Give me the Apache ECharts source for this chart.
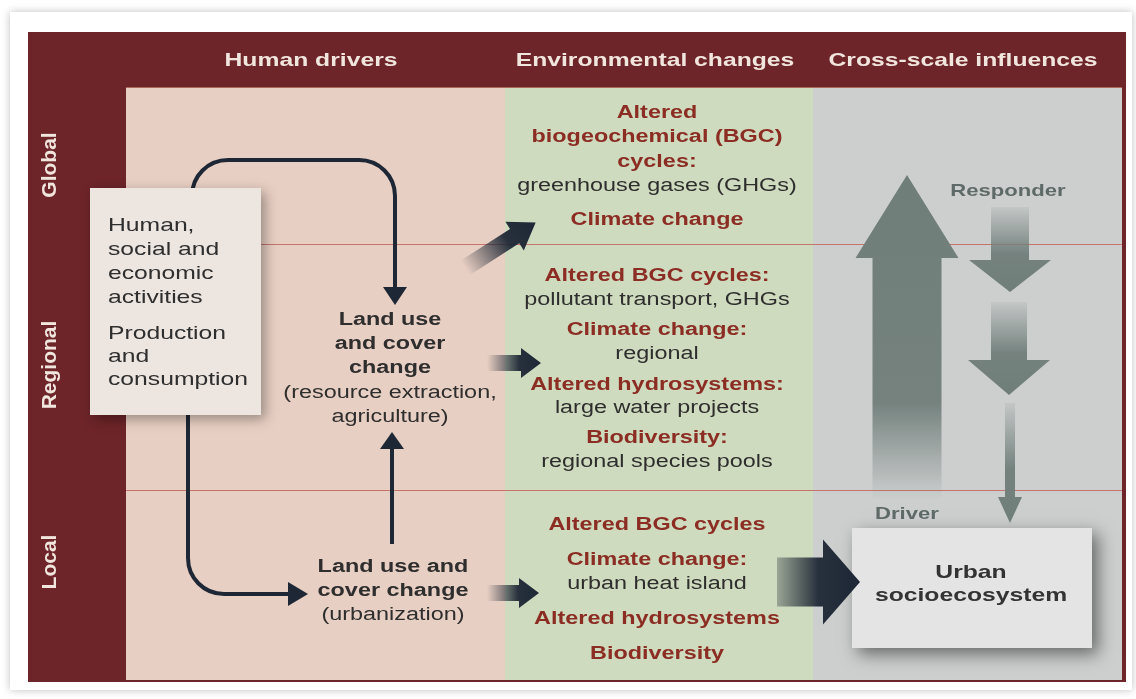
<!DOCTYPE html>
<html>
<head>
<meta charset="utf-8">
<script src="https://cdn.jsdelivr.net/npm/echarts@6/dist/echarts.min.js"></script>
<style>
  html, body { margin: 0; padding: 0; background: #fff; }
  #main { width: 1136px; height: 699px; }
</style>
</head>
<body>
<div id="main"></div>
<script>
// texts of the diagram
var columnTitles = ['Human drivers', 'Environmental changes', 'Cross-scale influences'];
var scaleLabels = ['Global', 'Regional', 'Local'];
var activityLines = ['Human,', 'social and', 'economic', 'activities', 'Production', 'and', 'consumption'];
var regionalLanduse = ['Land use', 'and cover', 'change', '(resource extraction,', 'agriculture)'];
var regionalLanduseBold = [1, 1, 1, 0, 0];
var localLanduse = ['Land use and', 'cover change', '(urbanization)'];
var localLanduseBold = [1, 1, 0];
var envGlobal = ['Altered', 'biogeochemical (BGC)', 'cycles:', 'greenhouse gases (GHGs)', 'Climate change'];
var envGlobalBold = [1, 1, 1, 0, 1];
var envRegional = ['Altered BGC cycles:', 'pollutant transport, GHGs', 'Climate change:', 'regional',
    'Altered hydrosystems:', 'large water projects', 'Biodiversity:', 'regional species pools'];
var envRegionalBold = [1, 0, 1, 0, 1, 0, 1, 0];
var envLocal = ['Altered BGC cycles', 'Climate change:', 'urban heat island', 'Altered hydrosystems', 'Biodiversity'];
var envLocalBold = [1, 1, 0, 1, 1];
var crossLabels = ['Responder', 'Driver'];
var urbanLines = ['Urban', 'socioecosystem'];

// layout (pixels)
var FONT = "'Liberation Sans', Arial, Helvetica, sans-serif";
var SX = 1.3;   // the picture is stretched sideways
var titleX = [311, 655, 963];
var scaleY = [165, 365, 562];
var dividerY = [244, 490];
var activityY = [226, 250, 274, 298, 334, 357, 380];
var regionalLanduseY = [320, 344, 368, 393, 417];
var localLanduseY = [567, 591, 615];
var envGlobalY = [113, 137, 162, 186, 220];
var envRegionalY = [276, 300, 330, 354, 385, 408, 438, 462];
var envLocalY = [525, 560, 584, 619, 654];

var RED = '#8c2d24';
var DARK = '#2e2e2e';
var NAVY = '#1e2735';
var GREYARROW = '112,126,122';

var myChart = echarts.init(document.getElementById('main'), null, { renderer: 'canvas' });
var els = [];

function txt(s, x, y, opt) {
    opt = opt || {};
    els.push({
        type: 'text', x: x, y: y, z: opt.z || 20,
        scaleX: opt.rot ? 1 : SX,
        rotation: opt.rot || 0,
        style: {
            text: s,
            fill: opt.color || DARK,
            font: (opt.bold ? 'bold ' : '') + (opt.size || 18) + 'px ' + FONT,
            textAlign: opt.align || 'center', align: opt.align || 'center',
            textVerticalAlign: 'middle', verticalAlign: 'middle'
        }
    });
}

function seg(x1, y1, x2, y2) {
    els.push({ type: 'line', z: 10, shape: { x1: x1, y1: y1, x2: x2, y2: y2 },
        style: { stroke: NAVY, lineWidth: 4 } });
}
function corner(x1, y1, c1x, c1y, c2x, c2y, x2, y2) {
    els.push({ type: 'bezierCurve', z: 10,
        shape: { x1: x1, y1: y1, cpx1: c1x, cpy1: c1y, cpx2: c2x, cpy2: c2y, x2: x2, y2: y2 },
        style: { stroke: NAVY, lineWidth: 4, fill: null } });
}

function arrowPts(L, sw, hw, hl) {
    return [[0, -sw / 2], [L - hl, -sw / 2], [L - hl, -hw / 2], [L, 0],
        [L - hl, hw / 2], [L - hl, sw / 2], [0, sw / 2]];
}

function fatArrow(x, y, rot, L, sw, hw, hl, stops, z) {
    els.push({
        type: 'polygon', x: x, y: y, rotation: rot, z: z || 15,
        shape: { points: arrowPts(L, sw, hw, hl) },
        style: {
            fill: { type: 'linear', x: 0, y: 0, x2: 1, y2: 0, colorStops: stops }
        }
    });
}

// card and frame
els.push({ type: 'rect', z: 1, shape: { x: 10, y: 12, width: 1122, height: 678 },
    style: { fill: '#fff', shadowBlur: 8, shadowColor: 'rgba(0,0,0,0.25)' } });
els.push({ type: 'rect', z: 2, shape: { x: 28, y: 32, width: 1098, height: 650 },
    style: { fill: '#6d2529' } });
els.push({ type: 'rect', z: 3, shape: { x: 126, y: 87, width: 380, height: 593 }, style: { fill: '#e8cfc3' } });
els.push({ type: 'rect', z: 3, shape: { x: 505, y: 87, width: 309, height: 593 }, style: { fill: '#cfdbbe' } });
els.push({ type: 'rect', z: 3, shape: { x: 813, y: 87, width: 309, height: 593 }, style: { fill: '#cdcfcf' } });
els.push({ type: 'rect', z: 4, shape: { x: 126, y: 87, width: 996, height: 1 }, style: { fill: '#a8695a' } });

// scale dividers
dividerY.forEach(function (yy, i) {
    els.push({ type: 'rect', id: 'divider' + i, z: 4, shape: { x: 126, y: yy, width: 996, height: 1 },
        style: { fill: '#c4746a', stroke: null } });
});

// headers and side labels
columnTitles.forEach(function (t, i) {
    txt(t, titleX[i], 61, { bold: true, size: 19, color: '#f1e6de' });
});
scaleLabels.forEach(function (t, i) {
    txt(t, 50, scaleY[i], { bold: true, size: 21, color: '#f1e6de', rot: Math.PI / 2 });
});

// human activity box
els.push({ type: 'rect', z: 12, shape: { x: 90, y: 188, width: 171, height: 227 },
    style: { fill: '#ece5e0', shadowBlur: 12, shadowOffsetX: 4, shadowOffsetY: 4, shadowColor: 'rgba(0,0,0,0.35)' } });
activityLines.forEach(function (t, i) {
    txt(t, 108, activityY[i], { size: 19, align: 'left' });
});

// thin connector arrows
seg(192, 200, 192, 196);
corner(192, 196, 192, 176, 208, 160, 228, 160);
seg(228, 160, 359, 160);
corner(359, 160, 379, 160, 395, 176, 395, 196);
seg(395, 196, 395, 290);
els.push({ type: 'polygon', z: 10, shape: { points: [[383, 287], [407, 287], [395, 305]] }, style: { fill: NAVY } });
seg(188, 405, 188, 558);
corner(188, 558, 188, 578, 204, 594, 224, 594);
seg(224, 594, 292, 594);
els.push({ type: 'polygon', z: 10, shape: { points: [[288, 582], [288, 606], [308, 594]] }, style: { fill: NAVY } });
seg(392, 544, 392, 446);
els.push({ type: 'polygon', z: 10, shape: { points: [[380, 449], [404, 449], [392, 432]] }, style: { fill: NAVY } });

// land use texts
regionalLanduse.forEach(function (t, i) {
    txt(t, 390, regionalLanduseY[i], { bold: regionalLanduseBold[i] });
});
localLanduse.forEach(function (t, i) {
    txt(t, 393, localLanduseY[i], { bold: localLanduseBold[i] });
});

// environmental change texts
function envBlock(lines, bold, ys) {
    lines.forEach(function (t, i) {
        txt(t, 657, ys[i], { bold: bold[i], color: bold[i] ? RED : DARK });
    });
}
envBlock(envGlobal, envGlobalBold, envGlobalY);
envBlock(envRegional, envRegionalBold, envRegionalY);
envBlock(envLocal, envLocalBold, envLocalY);

// dark fat arrows
var darkStops = [{ offset: 0, color: 'rgba(30,39,53,0.0)' }, { offset: 0.6, color: 'rgba(30,39,53,0.95)' }, { offset: 1, color: NAVY }];
fatArrow(465, 268, Math.atan2(45, 70), 84, 17, 34, 25, darkStops);
fatArrow(487, 363, 0, 54, 16, 30, 20, darkStops);
fatArrow(487, 593, 0, 52, 16, 30, 20, darkStops);
fatArrow(777, 582, 0, 83, 49, 85, 37,
    [{ offset: 0, color: 'rgba(30,39,53,0.3)' }, { offset: 0.5, color: 'rgba(30,39,53,0.95)' }, { offset: 1, color: NAVY }]);

// cross-scale grey arrows
fatArrow(907, 500, Math.PI / 2, 325, 69, 103, 83,
    [{ offset: 0, color: 'rgba(' + GREYARROW + ',0.0)' }, { offset: 0.3, color: 'rgba(' + GREYARROW + ',0.95)' }, { offset: 1, color: 'rgb(' + GREYARROW + ')' }]);
var downStops = [{ offset: 0, color: 'rgba(' + GREYARROW + ',0.1)' }, { offset: 0.55, color: 'rgba(' + GREYARROW + ',0.95)' }, { offset: 1, color: 'rgb(' + GREYARROW + ')' }];
fatArrow(1010, 207, -Math.PI / 2, 85, 38, 82, 32, downStops);
fatArrow(1009, 302, -Math.PI / 2, 93, 36, 82, 35, downStops);
fatArrow(1010, 403, -Math.PI / 2, 120, 10, 24, 26, downStops);

txt(crossLabels[0], 1008, 191, { bold: true, size: 17, color: '#5e6a67' });
txt(crossLabels[1], 907, 514, { bold: true, size: 17, color: '#5e6a67' });

// urban socioecosystem box
els.push({ type: 'rect', z: 12, shape: { x: 852, y: 528, width: 240, height: 120 },
    style: { fill: '#e4e4e4', shadowBlur: 16, shadowOffsetX: 6, shadowOffsetY: 6, shadowColor: 'rgba(0,0,0,0.5)' } });
urbanLines.forEach(function (t, i) {
    txt(t, 971, 573 + i * 23, { bold: true, size: 19, color: '#333' });
});

var option = {
    backgroundColor: '#fff',
    animation: false,
    graphic: { elements: els }
};
myChart.setOption(option);
</script>
</body>
</html>
